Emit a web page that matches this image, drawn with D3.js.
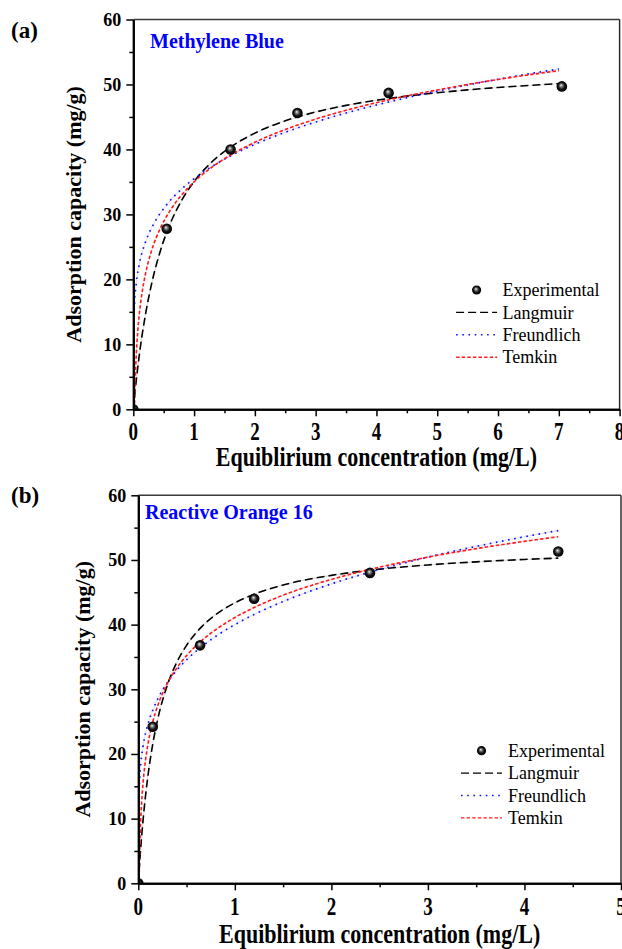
<!DOCTYPE html>
<html>
<head>
<meta charset="utf-8">
<script src="https://cdn.jsdelivr.net/npm/d3@7"></script>
<style>
  body { margin: 0; background: #fff; }
  svg { display: block; }
</style>
</head>
<body>
<svg id="chart" width="622" height="949"></svg>
<script>
// ---------- data: panel (a) Methylene Blue ----------
const mbExperimental = [[0, 0], [0.55, 27.8], [1.6, 40.0], [2.7, 45.6], [4.2, 48.7], [7.05, 49.7]];
const mbLangmuir = [[0, 0], [0.05, 4.57], [0.1, 8.43], [0.2, 14.58], [0.3, 19.27], [0.45, 24.53],
  [0.6, 28.41], [0.8, 32.23], [1.0, 35.05], [1.3, 38.14], [1.6, 40.36], [2.0, 42.51], [2.5, 44.4],
  [3.0, 45.76], [3.5, 46.78], [4.0, 47.57], [4.5, 48.21], [5.0, 48.73], [5.5, 49.17], [6.0, 49.54],
  [6.5, 49.85], [7.05, 50.15]];
const mbFreundlich = [[0, 0], [0.0005, 7.76], [0.002, 10.24], [0.005, 12.3], [0.01, 14.13], [0.02, 16.23],
  [0.05, 19.5], [0.1, 22.4], [0.2, 25.73], [0.35, 28.78], [0.55, 31.5], [0.8, 33.95], [1.0, 35.5],
  [1.3, 37.41], [1.6, 39.0], [2.0, 40.78], [2.5, 42.64], [3.0, 44.22], [3.5, 45.61], [4.0, 46.84],
  [4.5, 47.96], [5.0, 48.98], [5.5, 49.92], [6.0, 50.8], [6.5, 51.62], [7.0, 52.39]];
const mbTemkin = [[0.0187, 0], [0.025, 2.54], [0.035, 5.5], [0.05, 8.64], [0.075, 12.21], [0.1, 14.74],
  [0.15, 18.31], [0.2, 20.84], [0.3, 24.4], [0.45, 27.97], [0.6, 30.5], [0.8, 33.04], [1.0, 35.0],
  [1.3, 37.31], [1.6, 39.14], [2.0, 41.1], [2.5, 43.06], [3.0, 44.67], [3.5, 46.02], [4.0, 47.2],
  [4.5, 48.24], [5.0, 49.16], [5.5, 50.0], [6.0, 50.77], [6.5, 51.47], [7.0, 52.12]];

// ---------- data: panel (b) Reactive Orange 16 ----------
const roExperimental = [[0, 0], [0.15, 24.2], [0.64, 36.8], [1.2, 44.0], [2.4, 48.0], [4.35, 51.3]];
const roLangmuir = [[0, 0], [0.02, 4.45], [0.05, 9.87], [0.1, 16.64], [0.15, 21.56], [0.2, 25.3],
  [0.3, 30.61], [0.4, 34.21], [0.5, 36.8], [0.65, 39.57], [0.8, 41.52], [1.0, 43.37], [1.2, 44.7],
  [1.5, 46.12], [2.0, 47.62], [2.5, 48.58], [3.0, 49.23], [3.5, 49.71], [4.0, 50.08], [4.35, 50.29]];
const roFreundlich = [[0, 0], [0.0005, 8.04], [0.002, 10.78], [0.005, 13.08], [0.01, 15.14], [0.02, 17.52],
  [0.05, 21.26], [0.1, 24.61], [0.15, 26.8], [0.2, 28.48], [0.3, 31.03], [0.4, 32.97], [0.5, 34.56],
  [0.65, 36.52], [0.8, 38.16], [1.0, 40.0], [1.2, 41.57], [1.5, 43.57], [2.0, 46.3], [2.5, 48.53],
  [3.0, 50.44], [3.5, 52.1], [4.0, 53.59], [4.35, 54.55]];
const roTemkin = [[0.008, 0], [0.012, 3.5], [0.02, 7.85], [0.035, 12.61], [0.05, 15.64], [0.075, 19.08],
  [0.1, 21.53], [0.15, 24.98], [0.2, 27.42], [0.3, 30.87], [0.4, 33.31], [0.5, 35.21], [0.65, 37.44],
  [0.8, 39.2], [1.0, 41.1], [1.2, 42.65], [1.5, 44.55], [2.0, 46.99], [2.5, 48.89], [3.0, 50.44],
  [3.5, 51.75], [4.0, 52.88], [4.35, 53.6]];

// ---------- ticks and labels ----------
const yMajorTicks = [0, 10, 20, 30, 40, 50, 60];
const yMinorTicks = [5, 15, 25, 35, 45, 55];
const xMajorTicksA = [0, 1, 2, 3, 4, 5, 6, 7, 8];
const xMinorTicksA = [0.5, 1.5, 2.5, 3.5, 4.5, 5.5, 6.5, 7.5];
const xMajorTicksB = [0, 1, 2, 3, 4, 5];
const xMinorTicksB = [0.5, 1.5, 2.5, 3.5, 4.5];
const legendLabels = ["Experimental", "Langmuir", "Freundlich", "Temkin"];
const xTitle = "Equiblirium concentration (mg/L)";
const yTitle = "Adsorption capacity (mg/g)";

const FONT = "'Liberation Serif', 'Times New Roman', Times, serif";
const svg = d3.select("#chart");
const defs = svg.append("defs");

// shaded sphere used for the experimental points
const grad = defs.append("radialGradient").attr("id", "sphere")
  .attr("cx", "0.5").attr("cy", "0.5").attr("r", "0.5").attr("fx", "0.42").attr("fy", "0.38");
grad.append("stop").attr("offset", "0").attr("stop-color", "#f4f4f4");
grad.append("stop").attr("offset", "0.28").attr("stop-color", "#7a7a7a");
grad.append("stop").attr("offset", "0.62").attr("stop-color", "#141414");
grad.append("stop").attr("offset", "1").attr("stop-color", "#000");

const styles = {
  langmuir: { color: "#000", dash: "8,4", width: 1.6 },
  freundlich: { color: "#1010ff", dash: "1.6,4.6", width: 1.7 },
  temkin: { color: "#ff1a1a", dash: "3.4,2.2", width: 1.6 }
};

function drawPanel(p) {
  const g = svg.append("g");
  const x = d3.scaleLinear().domain(p.xDomain).range([p.left, p.right]);
  const y = d3.scaleLinear().domain([0, 60]).range([p.bottom, p.top]);

  const clipId = "clip-" + p.id;
  defs.append("clipPath").attr("id", clipId).append("rect")
    .attr("x", p.left).attr("y", p.top)
    .attr("width", p.right - p.left).attr("height", p.bottom - p.top);

  const line = d3.line().x(d => x(d[0])).y(d => y(d[1])).curve(d3.curveMonotoneX);
  const plot = g.append("g").attr("clip-path", `url(#${clipId})`);

  const curves = [
    [p.langmuir, styles.langmuir],
    [p.freundlich, styles.freundlich],
    [p.temkin, styles.temkin]
  ];
  // faint solid trace under each broken line
  curves.forEach(([data, s]) => {
    plot.append("path").datum(data).attr("d", line)
      .attr("fill", "none").attr("stroke", s.color).attr("stroke-opacity", 0.13)
      .attr("stroke-width", 1.1);
  });
  curves.forEach(([data, s]) => {
    plot.append("path").datum(data).attr("d", line)
      .attr("fill", "none").attr("stroke", s.color)
      .attr("stroke-width", s.width).attr("stroke-dasharray", s.dash);
  });

  plot.selectAll("circle.exp").data(p.experimental).join("circle")
    .attr("class", "exp")
    .attr("cx", d => x(d[0])).attr("cy", d => y(d[1])).attr("r", 5.3)
    .attr("fill", "url(#sphere)");

  // frame: top and right edges
  g.append("line").attr("x1", p.left).attr("x2", p.right).attr("y1", p.top).attr("y2", p.top)
    .attr("stroke", "#3a3a3a").attr("stroke-width", 1.4);
  g.append("line").attr("x1", p.right).attr("x2", p.right).attr("y1", p.top).attr("y2", p.bottom)
    .attr("stroke", "#222").attr("stroke-width", 1.4);

  // axes
  const yMajor = g.append("g").attr("transform", `translate(${p.left},0)`)
    .call(d3.axisLeft(y).tickValues(yMajorTicks).tickSize(7).tickSizeOuter(0).tickFormat(""));
  const yMinor = g.append("g").attr("transform", `translate(${p.left},0)`)
    .call(d3.axisLeft(y).tickValues(yMinorTicks).tickSize(4).tickSizeOuter(0).tickFormat(""));
  const xMajor = g.append("g").attr("transform", `translate(0,${p.bottom})`)
    .call(d3.axisBottom(x).tickValues(p.xMajor).tickSize(7).tickSizeOuter(0).tickFormat(""));
  const xMinor = g.append("g").attr("transform", `translate(0,${p.bottom})`)
    .call(d3.axisBottom(x).tickValues(p.xMinor).tickSize(4).tickSizeOuter(0).tickFormat(""));
  [yMajor, yMinor, xMajor, xMinor].forEach(a => {
    a.select(".domain").attr("stroke", "#000").attr("stroke-width", 2);
    a.selectAll(".tick line").attr("stroke", "#000").attr("stroke-width", 1.5);
  });

  // y tick labels
  g.selectAll("text.ylab").data(yMajorTicks).join("text")
    .attr("class", "ylab")
    .attr("x", p.left - 12).attr("y", d => y(d)).attr("dy", "0.35em")
    .attr("text-anchor", "end")
    .style("font-family", FONT).style("font-weight", "bold").style("font-size", "18px")
    .text(d => d);

  // x tick labels (tall, narrow digits)
  g.selectAll("g.xlab").data(p.xMajor).join("g")
    .attr("class", "xlab")
    .attr("transform", d => `translate(${x(d)},${p.bottom + p.xLabelOffset}) scale(1,1.3)`)
    .append("text")
    .attr("text-anchor", "middle")
    .style("font-family", FONT).style("font-weight", "bold").style("font-size", "19px")
    .text(d => d);

  // axis titles
  g.append("g")
    .attr("transform", `translate(${(p.left + p.right) / 2},${p.xTitleY}) scale(1,1.2)`)
    .append("text").attr("text-anchor", "middle")
    .style("font-family", FONT).style("font-weight", "bold").style("font-size", "22px")
    .text(xTitle);
  g.append("g")
    .attr("transform", `translate(${p.yTitleX},${(p.top + p.bottom) / 2}) rotate(-90) scale(1.1,1)`)
    .append("text").attr("text-anchor", "middle")
    .style("font-family", FONT).style("font-weight", "bold").style("font-size", "20px")
    .text(yTitle);

  // panel letter and dye name
  g.append("text").attr("x", 11).attr("y", p.letterY)
    .style("font-family", FONT).style("font-weight", "bold").style("font-size", "23px")
    .text(p.letter);
  g.append("text").attr("x", p.titleX).attr("y", p.titleY)
    .attr("fill", "#0000ff")
    .style("font-family", FONT).style("font-weight", "bold").style("font-size", "20px")
    .text(p.title);

  // legend
  const lg = g.append("g").attr("transform", `translate(${p.legendX},${p.legendY})`);
  const step = 22.4;
  const half = 20.5;
  lg.append("circle").attr("cx", 0).attr("cy", 0).attr("r", 4.6).attr("fill", "url(#sphere)");
  [styles.langmuir, styles.freundlich, styles.temkin].forEach((s, i) => {
    lg.append("line")
      .attr("x1", -half).attr("x2", half)
      .attr("y1", step * (i + 1)).attr("y2", step * (i + 1))
      .attr("stroke", s.color).attr("stroke-width", s.width - 0.2)
      .attr("stroke-dasharray", s.dash);
  });
  legendLabels.forEach((t, i) => {
    lg.append("text").attr("x", p.legendTextDx).attr("y", step * i).attr("dy", "0.34em")
      .style("font-family", FONT).style("font-size", "18px")
      .text(t);
  });
}

drawPanel({
  id: "a", letter: "(a)", letterY: 38, title: "Methylene Blue", titleX: 150, titleY: 48,
  left: 133.3, right: 619.6, top: 19.5, bottom: 409.3, xDomain: [0, 8],
  xMajor: xMajorTicksA, xMinor: xMinorTicksA, xLabelOffset: 30.5, xTitleY: 466, yTitleX: 81,
  experimental: mbExperimental, langmuir: mbLangmuir, freundlich: mbFreundlich, temkin: mbTemkin,
  legendX: 476.6, legendY: 290, legendTextDx: 26
});

drawPanel({
  id: "b", letter: "(b)", letterY: 503, title: "Reactive Orange 16", titleX: 145, titleY: 519,
  left: 138.3, right: 621, top: 495.3, bottom: 883.3, xDomain: [0, 5],
  xMajor: xMajorTicksB, xMinor: xMinorTicksB, xLabelOffset: 32, xTitleY: 943, yTitleX: 90,
  experimental: roExperimental, langmuir: roLangmuir, freundlich: roFreundlich, temkin: roTemkin,
  legendX: 481.5, legendY: 750.7, legendTextDx: 26.5
});
</script>
</body>
</html>
